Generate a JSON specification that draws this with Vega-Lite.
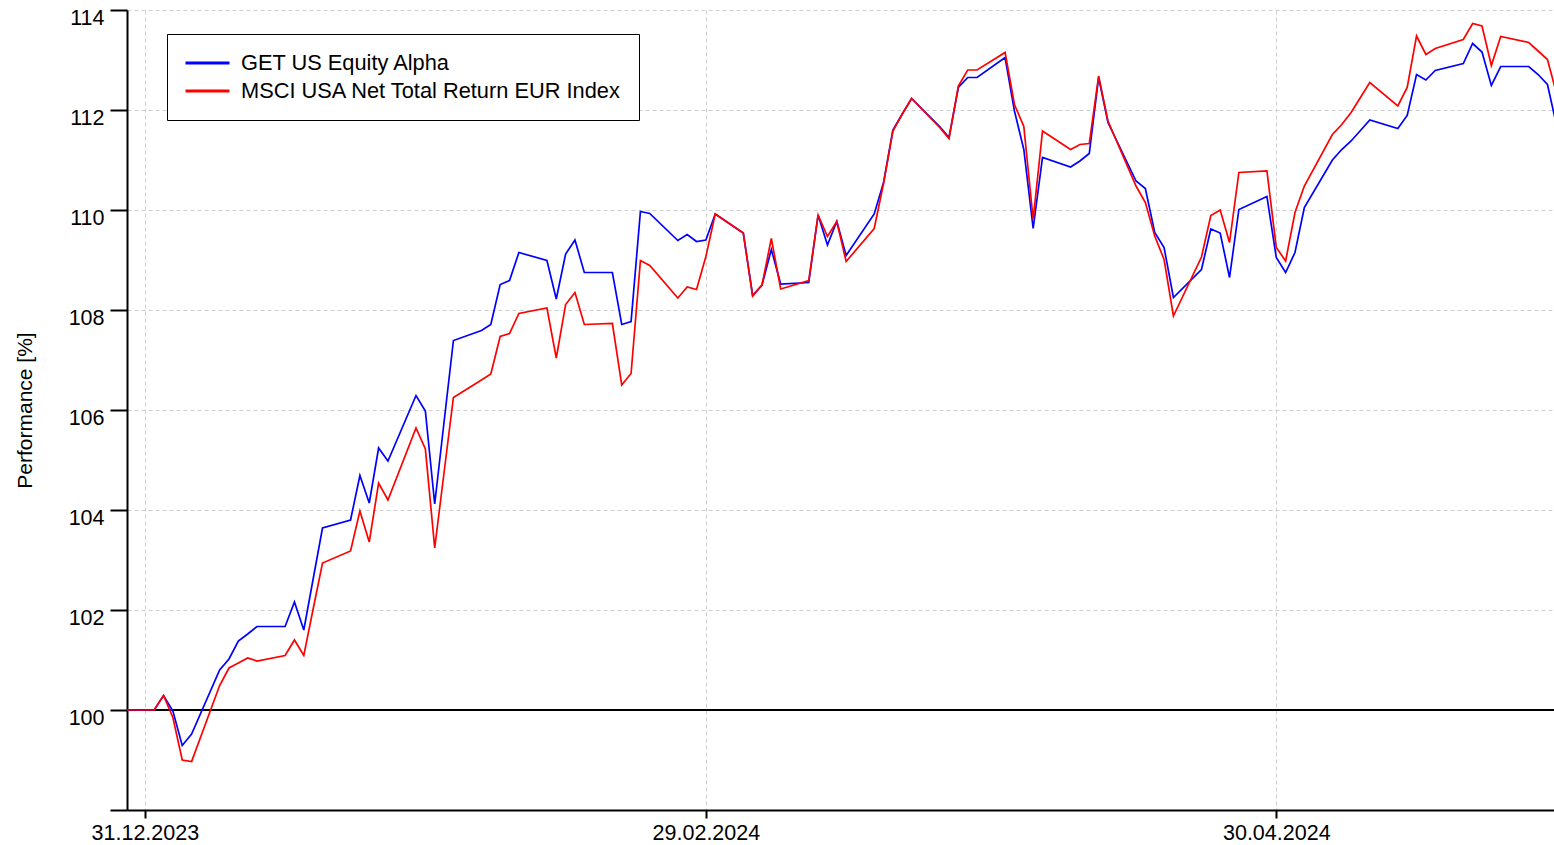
{
  "$schema": "https://vega.github.io/schema/vega-lite/v6.json",
  "width": 1427,
  "height": 800,
  "autosize": {"type": "none"},
  "padding": {"left": 127, "top": 10, "right": 0, "bottom": 35},
  "background": "white",
  "config": {
    "view": {"stroke": null},
    "axis": {
      "domainColor": "black",
      "domainWidth": 2,
      "tickColor": "black",
      "tickWidth": 2,
      "labelFont": "Liberation Sans",
      "labelFontSize": 21.5,
      "labelColor": "black",
      "gridColor": "#cfcfcf",
      "gridDash": [4, 3],
      "gridWidth": 1
    }
  },
  "data": {
    "values": [
      {"d": "2023-12-29", "a": 100, "m": 100},
      {"d": "2024-01-01", "a": 100, "m": 100},
      {"d": "2024-01-02", "a": 100.29, "m": 100.29},
      {"d": "2024-01-03", "a": 99.98, "m": 99.85},
      {"d": "2024-01-04", "a": 99.29, "m": 99.0},
      {"d": "2024-01-05", "a": 99.52, "m": 98.97},
      {"d": "2024-01-08", "a": 100.8, "m": 100.49},
      {"d": "2024-01-09", "a": 101.02, "m": 100.84},
      {"d": "2024-01-10", "a": 101.38, "m": 100.94},
      {"d": "2024-01-11", "a": 101.52, "m": 101.04},
      {"d": "2024-01-12", "a": 101.67, "m": 100.98},
      {"d": "2024-01-15", "a": 101.67, "m": 101.09},
      {"d": "2024-01-16", "a": 102.16, "m": 101.4},
      {"d": "2024-01-17", "a": 101.6, "m": 101.09},
      {"d": "2024-01-18", "a": 102.62, "m": 102.02},
      {"d": "2024-01-19", "a": 103.64, "m": 102.94},
      {"d": "2024-01-22", "a": 103.8, "m": 103.18},
      {"d": "2024-01-23", "a": 104.69, "m": 103.98},
      {"d": "2024-01-24", "a": 104.14, "m": 103.36},
      {"d": "2024-01-25", "a": 105.24, "m": 104.54},
      {"d": "2024-01-26", "a": 104.98, "m": 104.2},
      {"d": "2024-01-29", "a": 106.29, "m": 105.64},
      {"d": "2024-01-30", "a": 105.98, "m": 105.22},
      {"d": "2024-01-31", "a": 104.12, "m": 103.24},
      {"d": "2024-02-01", "a": 105.76, "m": 104.75},
      {"d": "2024-02-02", "a": 107.39, "m": 106.25},
      {"d": "2024-02-05", "a": 107.59, "m": 106.6},
      {"d": "2024-02-06", "a": 107.71, "m": 106.72},
      {"d": "2024-02-07", "a": 108.51, "m": 107.47},
      {"d": "2024-02-08", "a": 108.59, "m": 107.53},
      {"d": "2024-02-09", "a": 109.15, "m": 107.93},
      {"d": "2024-02-12", "a": 108.99, "m": 108.04},
      {"d": "2024-02-13", "a": 108.22, "m": 107.04},
      {"d": "2024-02-14", "a": 109.12, "m": 108.11},
      {"d": "2024-02-15", "a": 109.4, "m": 108.35},
      {"d": "2024-02-16", "a": 108.75, "m": 107.71},
      {"d": "2024-02-19", "a": 108.75, "m": 107.73},
      {"d": "2024-02-20", "a": 107.71, "m": 106.5},
      {"d": "2024-02-21", "a": 107.77, "m": 106.73},
      {"d": "2024-02-22", "a": 109.97, "m": 108.99},
      {"d": "2024-02-23", "a": 109.93, "m": 108.89},
      {"d": "2024-02-26", "a": 109.39, "m": 108.24},
      {"d": "2024-02-27", "a": 109.51, "m": 108.46},
      {"d": "2024-02-28", "a": 109.37, "m": 108.41},
      {"d": "2024-02-29", "a": 109.4, "m": 109.07},
      {"d": "2024-03-01", "a": 109.92, "m": 109.92},
      {"d": "2024-03-04", "a": 109.54, "m": 109.54},
      {"d": "2024-03-05", "a": 108.29, "m": 108.28},
      {"d": "2024-03-06", "a": 108.5, "m": 108.5},
      {"d": "2024-03-07", "a": 109.21, "m": 109.43},
      {"d": "2024-03-08", "a": 108.52, "m": 108.42},
      {"d": "2024-03-11", "a": 108.55, "m": 108.59},
      {"d": "2024-03-12", "a": 109.9, "m": 109.9},
      {"d": "2024-03-13", "a": 109.3, "m": 109.47},
      {"d": "2024-03-14", "a": 109.77, "m": 109.77},
      {"d": "2024-03-15", "a": 109.09, "m": 108.97},
      {"d": "2024-03-18", "a": 109.92, "m": 109.63},
      {"d": "2024-03-19", "a": 110.55, "m": 110.53},
      {"d": "2024-03-20", "a": 111.6, "m": 111.58},
      {"d": "2024-03-21", "a": 111.92, "m": 111.92},
      {"d": "2024-03-22", "a": 112.23, "m": 112.23},
      {"d": "2024-03-25", "a": 111.67, "m": 111.65},
      {"d": "2024-03-26", "a": 111.45, "m": 111.43},
      {"d": "2024-03-27", "a": 112.45, "m": 112.48},
      {"d": "2024-03-28", "a": 112.65, "m": 112.8},
      {"d": "2024-03-29", "a": 112.65, "m": 112.8},
      {"d": "2024-04-01", "a": 113.05, "m": 113.15},
      {"d": "2024-04-02", "a": 111.98, "m": 112.11},
      {"d": "2024-04-03", "a": 111.21, "m": 111.67},
      {"d": "2024-04-04", "a": 109.63, "m": 109.81},
      {"d": "2024-04-05", "a": 111.05, "m": 111.58},
      {"d": "2024-04-08", "a": 110.86, "m": 111.21},
      {"d": "2024-04-09", "a": 110.98, "m": 111.31},
      {"d": "2024-04-10", "a": 111.13, "m": 111.33},
      {"d": "2024-04-11", "a": 112.65, "m": 112.68},
      {"d": "2024-04-12", "a": 111.75, "m": 111.78},
      {"d": "2024-04-15", "a": 110.58, "m": 110.48},
      {"d": "2024-04-16", "a": 110.43, "m": 110.15},
      {"d": "2024-04-17", "a": 109.55, "m": 109.48},
      {"d": "2024-04-18", "a": 109.25, "m": 109.01},
      {"d": "2024-04-19", "a": 108.25, "m": 107.88},
      {"d": "2024-04-22", "a": 108.81, "m": 109.06},
      {"d": "2024-04-23", "a": 109.62, "m": 109.89},
      {"d": "2024-04-24", "a": 109.54, "m": 110.0},
      {"d": "2024-04-25", "a": 108.65, "m": 109.35},
      {"d": "2024-04-26", "a": 110.01, "m": 110.75},
      {"d": "2024-04-29", "a": 110.27, "m": 110.78},
      {"d": "2024-04-30", "a": 109.05, "m": 109.25},
      {"d": "2024-05-01", "a": 108.75, "m": 108.98},
      {"d": "2024-05-02", "a": 109.15, "m": 109.95},
      {"d": "2024-05-03", "a": 110.05, "m": 110.48},
      {"d": "2024-05-06", "a": 111.0, "m": 111.51},
      {"d": "2024-05-07", "a": 111.21, "m": 111.71},
      {"d": "2024-05-08", "a": 111.38, "m": 111.95},
      {"d": "2024-05-09", "a": 111.59, "m": 112.25},
      {"d": "2024-05-10", "a": 111.8, "m": 112.55},
      {"d": "2024-05-13", "a": 111.63, "m": 112.08},
      {"d": "2024-05-14", "a": 111.89, "m": 112.45},
      {"d": "2024-05-15", "a": 112.71, "m": 113.48},
      {"d": "2024-05-16", "a": 112.6, "m": 113.11},
      {"d": "2024-05-17", "a": 112.79, "m": 113.23},
      {"d": "2024-05-20", "a": 112.93, "m": 113.41},
      {"d": "2024-05-21", "a": 113.33, "m": 113.73},
      {"d": "2024-05-22", "a": 113.16, "m": 113.68},
      {"d": "2024-05-23", "a": 112.49, "m": 112.89},
      {"d": "2024-05-24", "a": 112.87, "m": 113.47},
      {"d": "2024-05-27", "a": 112.87, "m": 113.35},
      {"d": "2024-05-28", "a": 112.71, "m": 113.18},
      {"d": "2024-05-29", "a": 112.51, "m": 113.01},
      {"d": "2024-05-30", "a": 111.67, "m": 112.31}
    ]
  },
  "layer": [
    {
      "mark": {"type": "rule", "color": "black", "strokeWidth": 1.6},
      "encoding": {
        "y": {
          "datum": 100,
          "type": "quantitative",
          "scale": {"domain": [98, 114], "nice": false, "zero": false},
          "axis": {
            "values": [98, 100, 102, 104, 106, 108, 110, 112, 114],
            "labelExpr": "datum.value == 98 ? '' : datum.label",
            "format": "d",
            "tickSize": 17,
            "labelPadding": 6,
            "labelOffset": 8,
            "grid": true,
            "title": "Performance [%]",
            "titleFont": "Liberation Sans",
            "titleFontSize": 21,
            "titleFontWeight": "normal",
            "titleColor": "black",
            "titleX": -102,
            "titleY": 400,
            "titleAngle": -90,
            "titleAlign": "center",
            "titleBaseline": "middle"
          }
        }
      }
    },
    {
      "mark": {"type": "line", "strokeWidth": 1.7, "clip": true},
      "encoding": {
        "x": {
          "field": "d",
          "type": "temporal",
          "scale": {
            "type": "utc",
            "domain": [
              {"year": 2023, "month": 12, "date": 29, "hours": 2, "minutes": 13, "utc": true},
              {"year": 2024, "month": 5, "date": 29, "hours": 16, "minutes": 48, "utc": true}
            ]
          },
          "axis": {
            "values": [
              {"year": 2023, "month": 12, "date": 31, "utc": true},
              {"year": 2024, "month": 2, "date": 29, "utc": true},
              {"year": 2024, "month": 4, "date": 30, "utc": true}
            ],
            "labelExpr": "utcFormat(datum.value, '%d.%m.%Y')",
            "tickSize": 8,
            "labelPadding": 4,
            "grid": true,
            "title": null
          }
        },
        "y": {"field": "a", "type": "quantitative", "title": "Performance [%]"},
        "color": {
          "datum": "GET US Equity Alpha",
          "scale": {
            "domain": ["GET US Equity Alpha", "MSCI USA Net Total Return EUR Index"],
            "range": ["#0000ff", "#ff0000"]
          },
          "legend": {
            "orient": "none",
            "legendX": 40,
            "legendY": 24,
            "title": null,
            "symbolType": "stroke",
            "symbolSize": 1936,
            "symbolStrokeWidth": 3,
            "clipHeight": 24,
            "labelFont": "Liberation Sans",
            "labelFontSize": 21.8,
            "labelColor": "black",
            "labelOffset": 10,
            "labelLimit": 0,
            "rowPadding": 4,
            "padding": 17,
            "strokeColor": "black",
            "fillColor": "white"
          }
        }
      }
    },
    {
      "mark": {"type": "line", "strokeWidth": 1.7, "clip": true},
      "encoding": {
        "x": {
          "field": "d",
          "type": "temporal",
          "axis": {
            "values": [
              {"year": 2023, "month": 12, "date": 31, "utc": true},
              {"year": 2024, "month": 2, "date": 29, "utc": true},
              {"year": 2024, "month": 4, "date": 30, "utc": true}
            ],
            "labelExpr": "utcFormat(datum.value, '%d.%m.%Y')",
            "tickSize": 8,
            "labelPadding": 4,
            "grid": true,
            "title": null
          }
        },
        "y": {"field": "m", "type": "quantitative", "title": "Performance [%]"},
        "color": {"datum": "MSCI USA Net Total Return EUR Index"}
      }
    }
  ]
}
